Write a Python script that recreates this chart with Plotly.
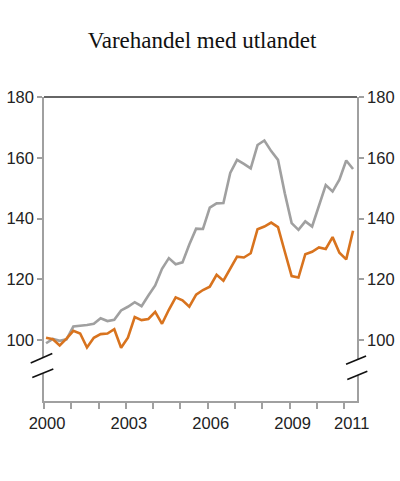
import plotly.graph_objects as go

# quarterly series, 2000 Q1 - 2011 Q2 (index, 2000 = 100)
grey_vals = [99.0, 100.4, 99.8, 100.3, 104.5, 104.7, 105.0, 105.4, 107.2, 106.3,
             106.7, 109.8, 111.0, 112.5, 111.2, 114.7, 118.0, 123.5, 127.0, 125.0,
             125.6, 131.5, 136.7, 136.6, 143.6, 145.0, 145.1, 155.0, 159.3, 158.0,
             156.5, 164.2, 165.7, 162.2, 159.3, 148.3, 138.5, 136.3, 139.1, 137.4,
             144.0, 151.0, 148.9, 152.8, 159.1, 156.3]
orange_vals = [100.8, 100.3, 98.3, 100.5, 103.1, 102.2, 97.6, 100.8, 102.0, 102.2,
               103.6, 97.5, 100.8, 107.6, 106.6, 107.0, 109.3, 105.4, 110.0, 114.1,
               113.1, 111.0, 115.0, 116.5, 117.6, 121.5, 119.6, 123.6, 127.5, 127.2,
               128.6, 136.5, 137.4, 138.7, 137.2, 129.1, 121.1, 120.6, 128.3, 129.1,
               130.5, 130.0, 133.9, 128.8, 126.6, 136.0]
year_ticks = list(range(2000, 2012))
year_labels = ["2000", "", "", "2003", "", "", "2006", "", "", "2009", "",
               "\u00a0\u00a02011"]
y_ticks = [100, 120, 140, 160, 180]

# place each quarter along a year axis
x_vals = [2000.075 + i / 4 for i in range(len(grey_vals))]

fig = go.Figure()
fig.add_trace(go.Scatter(x=x_vals, y=grey_vals, mode="lines",
                         line=dict(color="#a0a0a0", width=2.6), showlegend=False))
fig.add_trace(go.Scatter(x=x_vals, y=orange_vals, mode="lines",
                         line=dict(color="#d8731e", width=2.6), showlegend=False))
# dummy trace so the right hand axis gets drawn
fig.add_trace(go.Scatter(x=[2000], y=[100], yaxis="y2", mode="markers",
                         marker=dict(opacity=0), showlegend=False, hoverinfo="skip"))

axis_font = dict(family="Liberation Sans, Arial", size=16.5, color="#222222")

fig.update_layout(
    width=400, height=481,
    margin=dict(l=44, r=43, t=97, b=80, autoexpand=False),
    paper_bgcolor="white", plot_bgcolor="white",
    title=dict(text="Varehandel med utlandet", x=0.505, xanchor="center",
               y=0.917, yanchor="middle",
               font=dict(family="Liberation Serif, Times New Roman", size=23, color="#111111")),
    xaxis=dict(range=[2000, 2011.47], tickvals=year_ticks, ticktext=year_labels,
               showgrid=False, zeroline=False, showline=True, linecolor="#a0a0a0",
               linewidth=1.5, ticks="outside", ticklen=6, tickcolor="#a0a0a0",
               tickwidth=1.5, tickfont=axis_font, ticklabelshift=3, automargin=False),
    yaxis=dict(range=[80, 180], tickvals=y_ticks, showgrid=False, zeroline=False,
               showline=True, linecolor="#a0a0a0", linewidth=1.5, ticks="outside",
               ticklen=5, tickcolor="#a0a0a0", tickwidth=1.5, tickfont=axis_font,
               automargin=False),
    yaxis2=dict(range=[80, 180], tickvals=y_ticks, overlaying="y", side="right",
                showgrid=False, zeroline=False, showline=True, linecolor="#a0a0a0",
                linewidth=1.5, ticks="outside", ticklen=5, tickcolor="#a0a0a0",
                tickwidth=1.5, tickfont=axis_font, automargin=False),
)

# top border
fig.add_shape(type="line", xref="paper", yref="paper", x0=0, x1=1, y0=1, y1=1,
              line=dict(color="#333333", width=1.5), layer="above")

# axis break marks: white gap on the axis plus two slanted strokes
for gx, gy0, gy1 in [(0, 89.0, 94.2), (1, 88.4, 93.5)]:
    fig.add_shape(type="line", xref="paper", yref="y", x0=gx, x1=gx, y0=gy0, y1=gy1,
                  line=dict(color="white", width=4), layer="above")
breaks = [(-0.0425, 92.5, 0.0265, 95.6), (-0.0374, 87.7, 0.0297, 90.5),
          (0.965, 92.1, 1.029, 94.8), (0.969, 87.1, 1.033, 89.8)]
for x0, y0, x1, y1 in breaks:
    fig.add_shape(type="line", xref="paper", yref="y", x0=x0, y0=y0, x1=x1, y1=y1,
                  line=dict(color="#111111", width=1.6), layer="above")

# drop the default body margin so the 400x481 figure fills the window exactly
fig.write_html("out.html", config={"displayModeBar": False},
               post_script="document.body.style.margin='0';")
